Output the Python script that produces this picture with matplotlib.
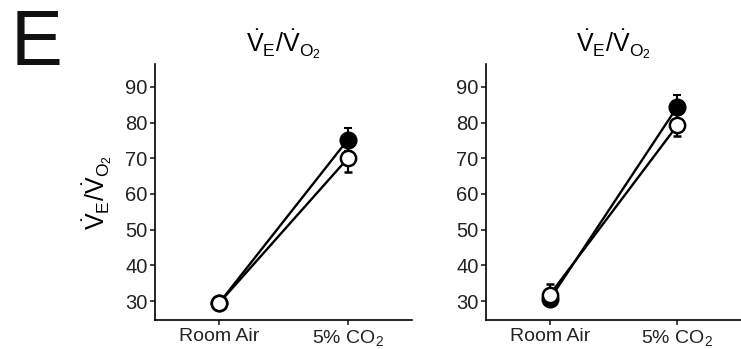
import numpy as np
import matplotlib.pyplot as plt

plt.rcParams['font.family'] = ['Liberation Sans', 'DejaVu Sans']
plt.rcParams['mathtext.fontset'] = 'custom'
plt.rcParams['mathtext.rm'] = 'Liberation Sans'
plt.rcParams['mathtext.it'] = 'Liberation Sans'
plt.rcParams['mathtext.bf'] = 'Liberation Sans'

# Datos
condiciones = ['Room Air', r'5% CO$_2$']
izq_lleno = [29.5, 75.2]
izq_lleno_err = [0.8, 3.3]
izq_vacio = [29.5, 70.0]
izq_vacio_err = [0.8, 3.8]
der_lleno = [30.5, 84.4]
der_lleno_err = [1.0, 3.4]
der_vacio = [31.8, 79.2]
der_vacio_err = [2.9, 3.1]
yticks = [30, 40, 50, 60, 70, 80, 90]

etiqueta = r'$\dot{\mathrm{V}}_\mathrm{E}/\dot{\mathrm{V}}_{\mathrm{O}_2}$'

fig = plt.figure(figsize=(7.41, 3.49), dpi=100)
ax1 = fig.add_axes([0.2092, 0.0831, 0.347, 0.7335])
ax2 = fig.add_axes([0.656, 0.0831, 0.344, 0.7335])


def panel(ax, lleno, lleno_err, vacio, vacio_err):
    x = np.arange(len(condiciones))
    ax.errorbar(x, lleno, yerr=lleno_err, color='black', lw=1.7,
                marker='o', ms=11.5, mfc='black', mec='black', mew=1.5,
                capsize=3, elinewidth=1.5, capthick=1.5, zorder=2)
    ax.errorbar(x, vacio, yerr=vacio_err, color='black', lw=1.7,
                marker='o', ms=11, mfc='white', mec='black', mew=1.8,
                capsize=3, elinewidth=1.5, capthick=1.5, zorder=3)
    ax.set_xlim(-0.5, 1.5)
    ax.set_ylim(24.7, 96.4)
    ax.set_xticks(x)
    ax.set_xticklabels(condiciones)
    ax.set_yticks(yticks)
    for lado in ['top', 'right']:
        ax.spines[lado].set_visible(False)
    for lado in ['left', 'bottom']:
        ax.spines[lado].set_linewidth(1.2)
    ax.tick_params(direction='out', length=3.5, width=1.2, labelsize=14,
                   colors='#222222', pad=2)
    ax.tick_params(axis='y', labelsize=14.5)
    ax.set_title(etiqueta, fontsize=18, pad=9)


panel(ax1, izq_lleno, izq_lleno_err, izq_vacio, izq_vacio_err)
panel(ax2, der_lleno, der_lleno_err, der_vacio, der_vacio_err)
ax1.set_ylabel(etiqueta, fontsize=18, labelpad=8)

fig.text(0.015, 0.815, 'E', fontsize=56, color='#111111')

plt.savefig('out.png', dpi=100)
